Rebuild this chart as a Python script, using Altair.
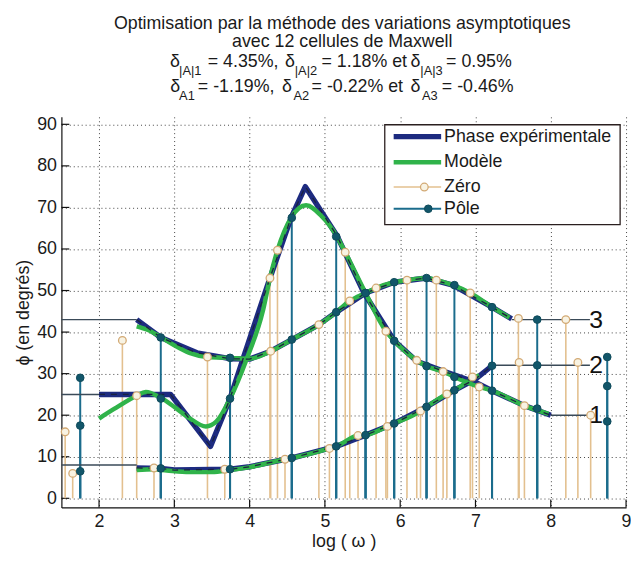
import altair as alt
import pandas as pd

FONT = "Liberation Sans"
NAVY = "#1d2b80"
GREEN = "#30b34a"
POLE = "#1b6c8c"
POLE_DOT = "#12566a"
ZERO = "#e3c08f"
ZERO_EDGE = "#d2a974"
ZERO_FILL = "#f8f3e3"
REF = "#3a4a58"

# ---------------- data ----------------
# experimental phase (three curves)
expA_x = [2.5, 2.82, 3.3, 3.74, 4.0, 4.28, 4.56, 4.92, 5.15, 5.54, 5.92, 6.35, 6.7, 7.22, 7.48]
expA_y = [43, 38.7, 35, 33.6, 33.5, 35.4, 38.2, 41.8, 44.8, 49.4, 52, 53, 51.3, 46, 43.2]
expB_x = [2.0, 2.95, 3.48, 3.74, 3.92, 4.27, 4.55, 4.74, 5.16, 5.52, 5.92, 6.22, 6.57, 6.99, 7.22, 7.65, 8.0]
expB_y = [25, 25, 12.5, 24, 34, 53, 67.5, 75, 63.2, 49.4, 37.9, 33, 30.6, 28, 25.9, 22.3, 20]
expC_x = [2.5, 2.82, 3.0, 3.74, 4.0, 4.56, 5.15, 5.54, 5.92, 6.35, 6.72, 7.0, 7.22]
expC_y = [7.3, 7.2, 6.8, 7.0, 7.6, 9.7, 12.5, 15.2, 18, 22, 26, 28.7, 31.9]

# model (three curves)
modA_x = [2.5, 2.65, 2.82, 3.0, 3.2, 3.44, 3.74, 4.0, 4.28, 4.56, 4.92, 5.15, 5.33, 5.54, 5.68, 5.92,
          6.09, 6.35, 6.48, 6.7, 6.93, 7.22, 7.45]
modA_y = [41.4, 40.5, 38.8, 36.8, 35, 34, 33.8, 33.6, 35.4, 38.2, 41.8, 44.8, 47.5, 49.4, 50.6, 52,
          52.5, 53, 52.5, 51.3, 49.4, 46, 43.5]
modB_x = [2.0, 2.2, 2.5, 2.62, 2.82, 3.0, 3.2, 3.42, 3.56, 3.74, 3.96, 4.18, 4.27, 4.37, 4.55, 4.75,
          4.95, 5.16, 5.27, 5.54, 5.81, 5.92, 6.22, 6.35, 6.57, 6.72, 7.05, 7.22, 7.65, 7.97]
modB_y = [19.2, 21.5, 24.7, 25.6, 24.2, 22, 19.3, 17.3, 18.5, 24, 33.5, 45.4, 53, 59.7, 67.5, 70.5,
          68, 63, 59.2, 49.4, 40.2, 37.9, 33.2, 31.8, 30.5, 29.2, 26.8, 25.9, 22.3, 20.3]
modC_x = [2.5, 2.73, 2.9, 3.2, 3.5, 3.74, 4.0, 4.47, 4.56, 5.06, 5.15, 5.44, 5.54, 5.83, 5.92, 6.27,
          6.35, 6.62, 6.72, 6.96, 7.05]
modC_y = [6.8, 7.0, 6.7, 6.3, 6.3, 6.8, 7.5, 9.4, 9.7, 12, 12.5, 15.1, 15.2, 17.3, 18, 21,
          22, 25.1, 26, 28.8, 29.6]

# poles (shared positions, one value per curve)
pole_x = [1.75, 2.82, 3.74, 4.56, 5.15, 5.54, 5.92, 6.35, 6.72, 7.22, 7.82, 8.75]
poleA_y = [29, 38.7, 33.8, 38.2, 44.8, 49.4, 52, 53, 51.3, 46, 43, 34]
poleB_y = [17.5, 24, 24, 67.5, 63, 49.4, 37.9, 31.8, 29.2, 25.9, 21.6, 18.5]
poleC_y = [6.5, 7.2, 7, 9.7, 12.5, 15.2, 18, 22, 26, 31.9, 32, 27]

# zeros
zeroA_x = [2.31, 3.44, 4.28, 4.92, 5.33, 5.68, 6.09, 6.48, 6.93, 7.57, 8.2]
zeroA_y = [38, 34, 35.4, 41.8, 47.5, 50.6, 52.5, 52.5, 49.4, 43.3, 43]
zeroB_x = [1.55, 2.5, 4.27, 4.37, 5.27, 5.81, 6.22, 6.57, 7.05, 7.65, 8.53]
zeroB_y = [16, 24.7, 53, 59.7, 59.2, 40.2, 33.2, 30.5, 26.8, 22.3, 20]
zeroC_x = [1.65, 2.73, 3.67, 4.47, 5.06, 5.44, 5.83, 6.27, 6.62, 6.96, 7.58, 8.36]
zeroC_y = [6, 7.3, 7, 9.4, 12, 15.1, 17.3, 21, 25.1, 29.2, 32.7, 32.7]

# level lines and labels
ref_x1 = [1.5, 1.5, 1.5, 7.48, 7.22, 8.0]
ref_x2 = [2.5, 2.0, 2.5, 8.52, 8.52, 8.52]
ref_y = [43, 25, 8, 43, 32, 20]
lab_x = [8.51, 8.51, 8.51]
lab_y = [43, 32, 20]
lab_t = ["3", "2", "1"]

x_ticks = [2, 3, 4, 5, 6, 7, 8, 9]
y_ticks = [0, 10, 20, 30, 40, 50, 60, 70, 80, 90]
legend_labels = ["Phase expérimentale", "Modèle", "Zéro", "Pôle"]


def frame(name, xs, ys):
    return pd.DataFrame({"curve": name, "x": xs, "y": ys, "i": list(range(len(xs)))})


exp_df = pd.concat([frame("A", expA_x, expA_y), frame("B", expB_x, expB_y), frame("C", expC_x, expC_y)])
mod_df = pd.concat([frame("A", modA_x, modA_y), frame("B", modB_x, modB_y), frame("C", modC_x, modC_y)])
pole_df = pd.concat([frame("A", pole_x, poleA_y), frame("B", pole_x, poleB_y), frame("C", pole_x, poleC_y)])
zero_df = pd.concat([frame("A", zeroA_x, zeroA_y), frame("B", zeroB_x, zeroB_y), frame("C", zeroC_x, zeroC_y)])
ref_df = pd.DataFrame({"x": ref_x1, "x2": ref_x2, "y": ref_y})
lab_df = pd.DataFrame({"x": lab_x, "y": lab_y, "t": lab_t})
xt_df = pd.DataFrame({"x": x_ticks})
yt_df = pd.DataFrame({"y": y_ticks})
dummy = pd.DataFrame({"d": [0]})

# ---------------- scales / axes ----------------
xscale = alt.Scale(domain=[1.5, 9], nice=False, zero=False)
yscale = alt.Scale(domain=[-2.2, 91.8], nice=False, zero=False)
axis_style = dict(
    grid=True, gridColor="#222", gridDash=[1, 3], gridOpacity=0.85, gridWidth=1,
    ticks=False, domainColor="#111", domainWidth=1.2,
    labelFont=FONT, labelFontSize=18, labelColor="#1a1a1a", labelPadding=5,
    titleFont=FONT, titleFontSize=18, titleFontWeight="normal", titleColor="#1a1a1a",
)
xaxis = alt.Axis(values=x_ticks, title="log ( ω )", labelFlush=False, titlePadding=2, **axis_style)
yaxis = alt.Axis(values=y_ticks, title="ϕ (en degrés)", titlePadding=4, **axis_style)


def X(f="x"):
    return alt.X(f"{f}:Q", scale=xscale, axis=xaxis)


def Y(f="y"):
    return alt.Y(f"{f}:Q", scale=yscale, axis=yaxis)


layers = []

# inward ticks
layers.append(alt.Chart(xt_df).mark_rule(color="#111", strokeWidth=1.2).encode(
    x=X(), y=alt.value(395), y2=alt.value(387)))
layers.append(alt.Chart(yt_df).mark_rule(color="#111", strokeWidth=1.2).encode(
    y=Y(), x=alt.value(0), x2=alt.value(8)))

# stems
layers.append(alt.Chart(zero_df).mark_rule(color=ZERO, strokeWidth=1.6).encode(
    x=X(), y=Y(), y2=alt.datum(0)))
layers.append(alt.Chart(pole_df).mark_rule(color=POLE, strokeWidth=2).encode(
    x=X(), y=Y(), y2=alt.datum(0)))

# level lines
layers.append(alt.Chart(ref_df).mark_rule(color=REF, strokeWidth=1.5).encode(
    x=X(), x2="x2:Q", y=Y()))

# curves
layers.append(alt.Chart(exp_df).mark_line(color=NAVY, strokeWidth=5.5, strokeJoin="round").encode(
    x=X(), y=Y(), detail="curve:N", order="i:Q"))
layers.append(alt.Chart(mod_df).mark_line(color=GREEN, strokeWidth=4.5, interpolate="monotone").encode(
    x=X(), y=Y(), detail="curve:N", order="i:Q"))
layers.append(alt.Chart(exp_df).mark_line(color="#1a2240", strokeWidth=1.3, strokeDash=[6, 6]).encode(
    x=X(), y=Y(), detail="curve:N", order="i:Q"))

# markers
layers.append(alt.Chart(zero_df).mark_point(shape="circle", filled=True, fill=ZERO_FILL, stroke=ZERO_EDGE,
                                            strokeWidth=1.3, size=60, opacity=1).encode(x=X(), y=Y()))
layers.append(alt.Chart(pole_df).mark_point(shape="circle", filled=True, fill=POLE_DOT, stroke="#0e4a5a",
                                            strokeWidth=1, size=60, opacity=1).encode(x=X(), y=Y()))

# curve labels
layers.append(alt.Chart(lab_df).mark_text(align="left", baseline="middle", font=FONT, fontSize=25,
                                          color="#111").encode(x=X(), y=Y(), text="t:N"))

# ---------------- legend ----------------
layers.append(alt.Chart(dummy).mark_rect(fill="white", stroke="#2a1f1f", strokeWidth=1.3).encode(
    x=alt.value(327), x2=alt.value(565), y=alt.value(8), y2=alt.value(109)))
row_y = [20, 46, 71, 93]
leg_styles = [(NAVY, 5.5), (GREEN, 4.5), (ZERO, 1.6), (POLE, 2)]
for (col, w), ry in zip(leg_styles, row_y):
    layers.append(alt.Chart(dummy).mark_rule(color=col, strokeWidth=w).encode(
        x=alt.value(336), x2=alt.value(384), y=alt.value(ry)))
layers.append(alt.Chart(dummy).mark_point(shape="circle", filled=True, fill=ZERO_FILL, stroke=ZERO_EDGE,
                                          strokeWidth=1.3, size=60, opacity=1).encode(
    x=alt.value(367), y=alt.value(row_y[2])))
layers.append(alt.Chart(dummy).mark_point(shape="circle", filled=True, fill=POLE_DOT, stroke="#0e4a5a",
                                          strokeWidth=1, size=60, opacity=1).encode(
    x=alt.value(371), y=alt.value(row_y[3])))
for lab, ry in zip(legend_labels, row_y):
    layers.append(alt.Chart(dummy).mark_text(text=lab, align="left", baseline="middle", font=FONT,
                                             fontSize=18, color="#1a1a1a").encode(
        x=alt.value(387), y=alt.value(ry)))

# ---------------- title ----------------
title_pieces = [
    ("Optimisation par la méthode des variations asymptotiques", 284, -88.7, 18, "center"),
    ("avec 12 cellules de Maxwell", 284, -70.3, 18, "center"),
    ("δ", 109.7, -50.3, 18, "left"),
    ("|A|1", 119, -42.5, 13, "left"),
    ("= 4.35%,", 148, -50.3, 18, "left"),
    ("δ", 226, -50.3, 18, "left"),
    ("|A|2", 236, -42.5, 13, "left"),
    ("= 1.18% et", 263, -50.3, 18, "left"),
    ("δ", 353, -50.3, 18, "left"),
    ("|A|3", 363, -42.5, 13, "left"),
    ("= 0.95%", 389, -50.3, 18, "left"),
    ("δ", 110, -25.5, 18, "left"),
    ("A1", 119, -17, 13, "left"),
    ("= -1.19%,", 138, -25.5, 18, "left"),
    ("δ", 223, -25.5, 18, "left"),
    ("A2", 234.7, -17, 13, "left"),
    ("= -0.22% et", 253, -25.5, 18, "left"),
    ("δ", 353, -25.5, 18, "left"),
    ("A3", 364.7, -17, 13, "left"),
    ("= -0.46%", 384.7, -25.5, 18, "left"),
]
for t, px, py, fs, al in title_pieces:
    layers.append(alt.Chart(dummy).mark_text(text=t, align=al, baseline="alphabetic", font=FONT,
                                             fontSize=fs, color="#1a1a1a").encode(
        x=alt.value(px), y=alt.value(py)))

chart = alt.layer(*layers).properties(
    width=571, height=395,
    padding={"left": 54, "top": 107, "right": 5, "bottom": 43},
    autosize=alt.AutoSizeParams(type="none"),
    background="white",
).configure_view(stroke=None)

chart.save("out.html", embed_options={"renderer": "svg", "actions": False})
